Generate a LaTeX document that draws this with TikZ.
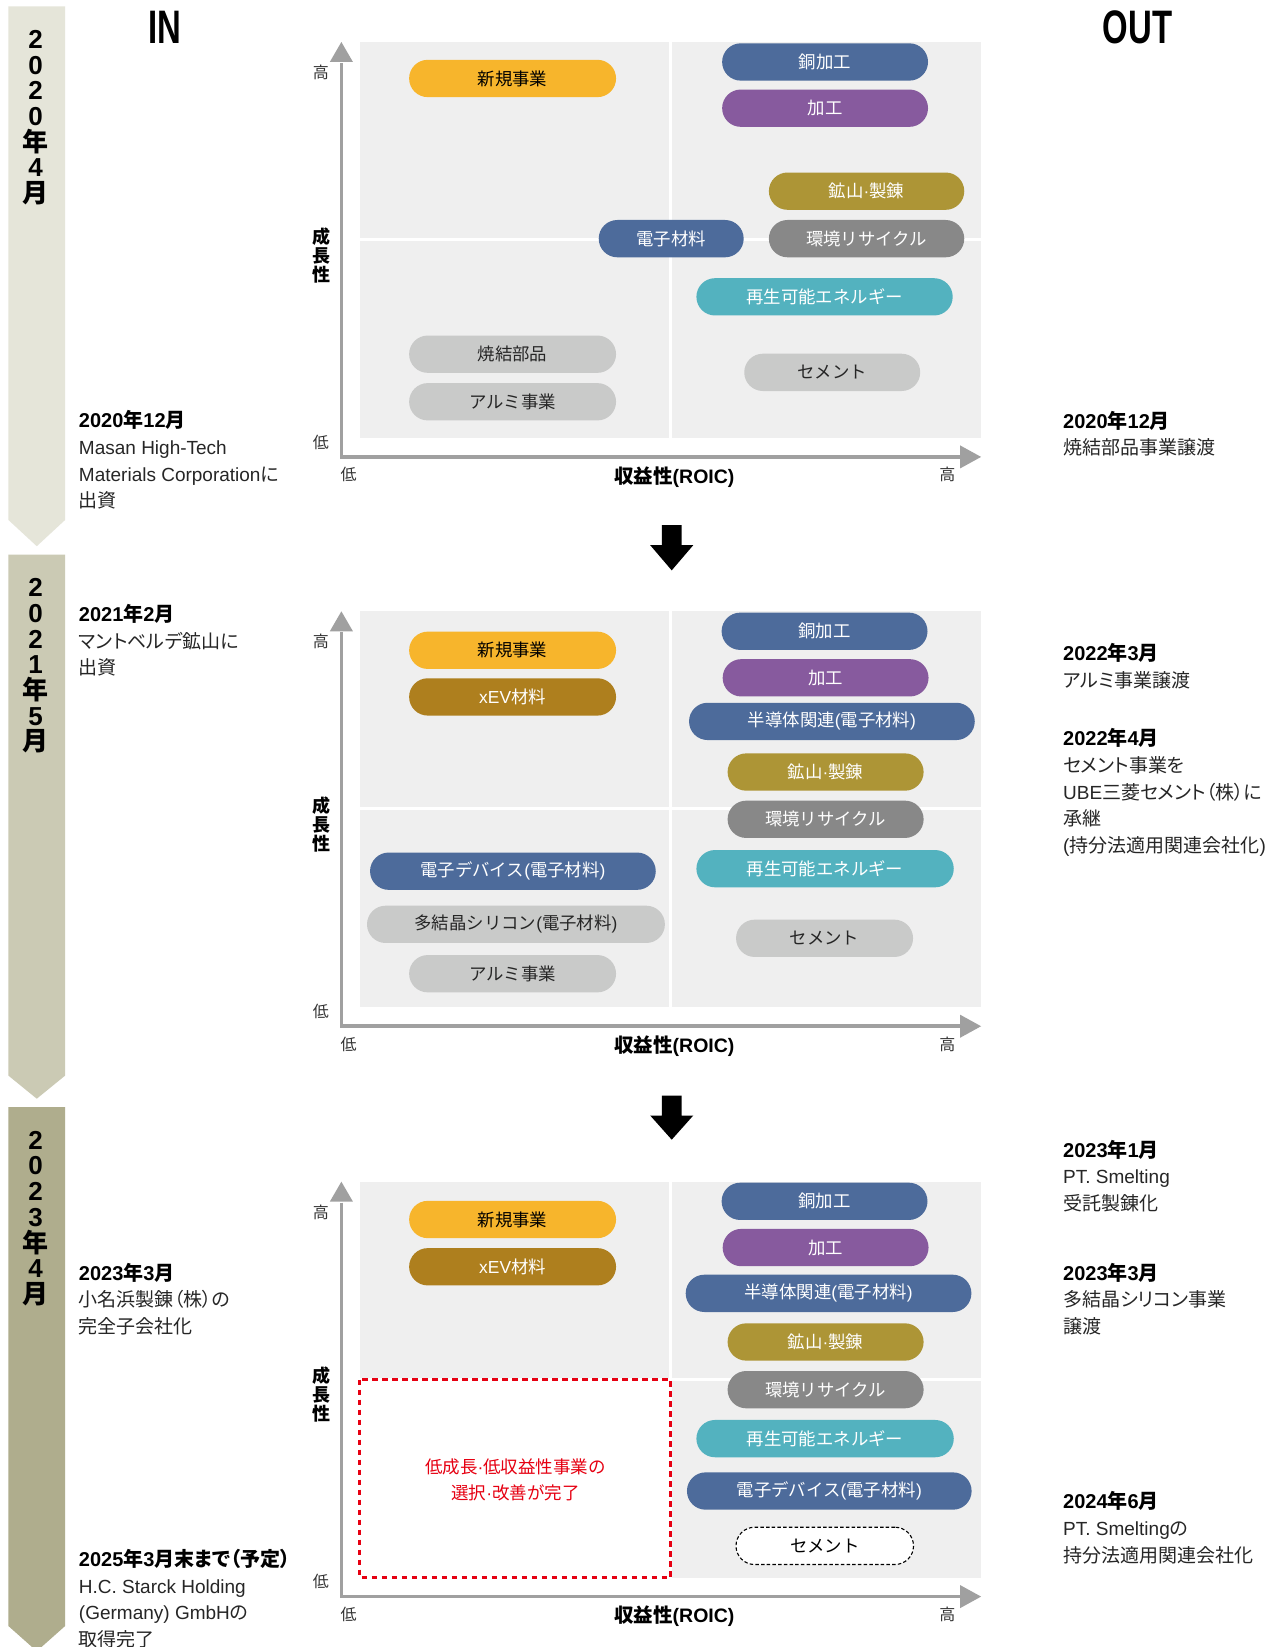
\documentclass[tikz,border=0pt]{standalone}
\usepackage{fontspec}
\usepackage{graphicx}
\setmainfont{Liberation Sans}
\newfontfamily\latfam{Liberation Sans}
\newfontfamily\jfamfix{Noto Sans CJK JP}
\newfontfamily\jfamprop{Noto Sans CJK JP}[RawFeature=+palt]
\let\jfamsel\jfamfix

% Japanese characters are set in Noto Sans CJK JP, everything else in Liberation Sans
\XeTeXinterchartokenstate=1
\chardef\jpclass=200
\newcount\jpcode
\jpcode="3000
\loop\XeTeXcharclass\jpcode=\jpclass
\ifnum\jpcode<"9FFF \advance\jpcode by 1 \repeat
\jpcode="FF00
\loop\XeTeXcharclass\jpcode=\jpclass
\ifnum\jpcode<"FFEF \advance\jpcode by 1 \repeat
\XeTeXinterchartoks 0 \jpclass = {\jfamsel}
\XeTeXinterchartoks 4095 \jpclass = {\jfamsel}
\XeTeXinterchartoks \jpclass 0 = {\latfam}
\XeTeXinterchartoks 4095 0 = {\latfam}

\definecolor{bgc}{HTML}{EFEFEF}
\definecolor{axc}{HTML}{A0A0A0}
\definecolor{cyel}{HTML}{F7B52C}
\definecolor{cblu}{HTML}{4D6B9B}
\definecolor{cpur}{HTML}{875A9E}
\definecolor{coli}{HTML}{AD9536}
\definecolor{cgry}{HTML}{888888}
\definecolor{ctea}{HTML}{53B2BF}
\definecolor{clgr}{HTML}{C9CAC9}
\definecolor{cgld}{HTML}{AE7F1E}
\definecolor{banA}{HTML}{E5E5D9}
\definecolor{banB}{HTML}{CBCAB4}
\definecolor{banC}{HTML}{AFAD8D}
\definecolor{cred}{HTML}{E60012}

\newcommand\pill[6]{\node[pill,#5,minimum width={#4*1.0504pt}] (#1) at (#2,#3) {#6};}
\newcommand\datehead[1]{{\fontsize{20}{26.6}\selectfont\bfseries\color{black}#1}}

% one chart: quadrant background, axes and axis labels
\newcommand\chartpanel[3]{%
 \begin{scope}[shift={(0,#1)}]
  \fill[bgc] (343,40) rectangle (636.7,226.5);
  \fill[bgc] (640,40) rectangle (934,226.5);
  \ifnum#3=1 \fill[bgc] (343,229.5) rectangle (636.7,417);\fi
  \fill[bgc] (640,229.5) rectangle (934,417);
  \coordinate (#2o) at (325,435);
  \coordinate (#2ytip) at (325,40);
  \coordinate (#2ybase) at (325,60);
  \coordinate (#2xtip) at (934,435);
  \coordinate (#2xbase) at (914,435);
  \draw[axc,line width=3.5pt] (#2ybase) -- (#2o) -- (#2xbase);
  \fill[axc] (314,59) -- (#2ytip) -- (336,59) -- cycle;
  \fill[axc] (914,424) -- (#2xtip) -- (914,446) -- cycle;
  \node[lab] (#2yhi) at (305.5,69) {高};
  \node[lab] (#2ylo) at (305.5,421) {低};
  \node[labb,align=center] (#2ytitle) at (306.5,243) {成\\長\\性};
  \node[labb,font={\fontsize{19.5}{20}\selectfont\bfseries}] (#2xtitle) at (642,454) {収益性(ROIC)};
  \node[lab] (#2xlo) at (332,452) {低};
  \node[lab] (#2xhi) at (902,452) {高};
 \end{scope}}

\begin{document}
\begin{tikzpicture}[x=1.0504pt,y=-1.0504pt,
  pill/.style={rectangle,rounded corners=18.6pt,minimum height=37.3pt,inner sep=0pt,font={\fontsize{17.4}{20}\selectfont}},
  yel/.style={fill=cyel,text=black},
  blu/.style={fill=cblu,text=white},
  pur/.style={fill=cpur,text=white},
  oli/.style={fill=coli,text=white},
  gry/.style={fill=cgry,text=white},
  tea/.style={fill=ctea,text=white},
  lgr/.style={fill=clgr,text=black!85},
  gld/.style={fill=cgld,text=white},
  dsh/.style={fill=white,draw=black,line width=1.1pt,dash pattern=on 3.5pt off 2.2pt,text=black},
  lab/.style={inner sep=0pt,font={\fontsize{16}{18}\selectfont},text=black!80},
  labb/.style={inner sep=0pt,font={\fontsize{18}{19}\selectfont\bfseries}},
  side/.style={anchor=west,inner sep=0pt,align=left,font={\fontsize{19}{26.6}\selectfont\let\jfamsel\jfamprop},text=black!85},
  bantxt/.style={inner sep=0pt,align=center,font={\fontsize{26}{25.7}\selectfont\bfseries\lineskiplimit=-30pt}},
  hdr/.style={inner sep=0pt,font={\fontsize{47}{50}\selectfont\bfseries}},
  redtxt/.style={inner sep=0pt,align=center,text=cred,font={\fontsize{17.5}{26.7}\selectfont}}]

\useasboundingbox (0,0) rectangle (1211,1568);
\fill[white] (0,0) rectangle (1211,1568);

% period banners
\fill[banA] (8,6) -- (62,6) -- (62,495) -- (35,520) -- (8,495) -- cycle;
\fill[banB] (8,528) -- (62,528) -- (62,1024) -- (35,1046) -- (8,1024) -- cycle;
\fill[banC] (8,1054) -- (62,1054) -- (62,1548) -- (35,1572) -- (8,1548) -- cycle;
\node[bantxt] (yA) at (34,112) {2\\0\\2\\0\\年\\4\\月};
\node[bantxt] (yB) at (34,634) {2\\0\\2\\1\\年\\5\\月};
\node[bantxt] (yC) at (34,1160) {2\\0\\2\\3\\年\\4\\月};

% column headings
\node[hdr] (hin) at (157,26) {\scalebox{0.7}[1]{IN}};
\node[hdr] (hout) at (1083,26) {\scalebox{0.7}[1]{OUT}};

% charts
\chartpanel{0}{a}{1}
\chartpanel{542}{b}{1}
\chartpanel{1085}{c}{0}

% arrows between the charts
\fill[black] (630,500) -- (649,500) -- (649,519) -- (660,519) -- (639.5,543) -- (619,519) -- (630,519) -- cycle;
\fill[black] (630,1043) -- (649,1043) -- (649,1062) -- (660,1062) -- (639.5,1085) -- (619,1062) -- (630,1062) -- cycle;

% 2020
\pill{aNew}{488}{74.7}{197}{yel}{新規事業}
\pill{aCu}{785.5}{59}{196}{blu}{銅加工}
\pill{aKa}{785.5}{103}{196}{pur}{加工}
\pill{aMin}{825}{182}{186}{oli}{鉱山·製錬}
\pill{aEl}{639}{227.2}{138}{blu}{電子材料}
\pill{aEnv}{825}{227.2}{186}{gry}{環境リサイクル}
\pill{aRe}{785}{282.6}{244}{tea}{再生可能エネルギー}
\pill{aSin}{488}{337.2}{197}{lgr}{焼結部品}
\pill{aAl}{488}{382.5}{197}{lgr}{アルミ事業}
\pill{aCem}{792.3}{354.5}{167.5}{lgr}{セメント}

% 2021
\pill{bNew}{488}{619.1}{197}{yel}{新規事業}
\pill{bEv}{488}{663.5}{197}{gld}{xEV材料}
\pill{bCu}{785}{601}{196}{blu}{銅加工}
\pill{bKa}{786}{645.3}{196}{pur}{加工}
\pill{bSemi}{792}{686.8}{272}{blu}{半導体関連(電子材料)}
\pill{bMin}{786}{735}{186.6}{oli}{鉱山·製錬}
\pill{bEnv}{786}{780}{186.6}{gry}{環境リサイクル}
\pill{bRe}{785.5}{827}{245}{tea}{再生可能エネルギー}
\pill{bDev}{488.3}{829.4}{272}{blu}{電子デバイス(電子材料)}
\pill{bSi}{491.2}{880}{283.6}{lgr}{多結晶シリコン(電子材料)}
\pill{bAl}{488}{927}{197}{lgr}{アルミ事業}
\pill{bCem}{785}{893.3}{168.5}{lgr}{セメント}

% 2023
\draw[cred,line width=3.3pt,dash pattern=on 5.5pt off 4.5pt] (342.5,1313.5) rectangle (638.5,1502);
\node[redtxt] (done) at (490.8,1409) {低成長·低収益性事業の\\選択·改善が完了};
\pill{cNew}{488}{1161}{197}{yel}{新規事業}
\pill{cEv}{488}{1206}{197}{gld}{xEV材料}
\pill{cCu}{785}{1143.7}{196}{blu}{銅加工}
\pill{cKa}{786}{1187.7}{196}{pur}{加工}
\pill{cSemi}{788.8}{1231.3}{272}{blu}{半導体関連(電子材料)}
\pill{cMin}{786}{1277.6}{186.6}{oli}{鉱山·製錬}
\pill{cEnv}{786}{1323}{186.6}{gry}{環境リサイクル}
\pill{cRe}{785.5}{1369.6}{245}{tea}{再生可能エネルギー}
\pill{cDev}{789.5}{1419.5}{271}{blu}{電子デバイス(電子材料)}
\pill{cCem}{785.2}{1471.7}{169}{dsh}{セメント}

% IN events
\node[side] (l1) at (75,438) {\datehead{2020年12月}\\Masan High-Tech\\Materials Corporationに\\出資};
\node[side] (l2) at (75,609.5) {\datehead{2021年2月}\\マントベルデ鉱山に\\出資};
\node[side] (l3) at (75,1236.5) {\datehead{2023年3月}\\小名浜製錬（株）の\\完全子会社化};
\node[side] (l4) at (75,1522) {\datehead{2025年3月末まで（予定）}\\H.C. Starck Holding\\(Germany) GmbHの\\取得完了};

% OUT events
\node[side] (r1) at (1012,413) {\datehead{2020年12月}\\焼結部品事業譲渡};
\node[side] (r2) at (1012,634) {\datehead{2022年3月}\\アルミ事業譲渡};
\node[side] (r3) at (1012,754.5) {\datehead{2022年4月}\\セメント事業を\\UBE三菱セメント（株）に\\承継\\(持分法適用関連会社化)};
\node[side] (r4) at (1012,1119.5) {\datehead{2023年1月}\\PT. Smelting\\受託製錬化};
\node[side] (r5) at (1012,1236.5) {\datehead{2023年3月}\\多結晶シリコン事業\\譲渡};
\node[side] (r6) at (1012,1454.5) {\datehead{2024年6月}\\PT. Smeltingの\\持分法適用関連会社化};

\end{tikzpicture}
\end{document}
